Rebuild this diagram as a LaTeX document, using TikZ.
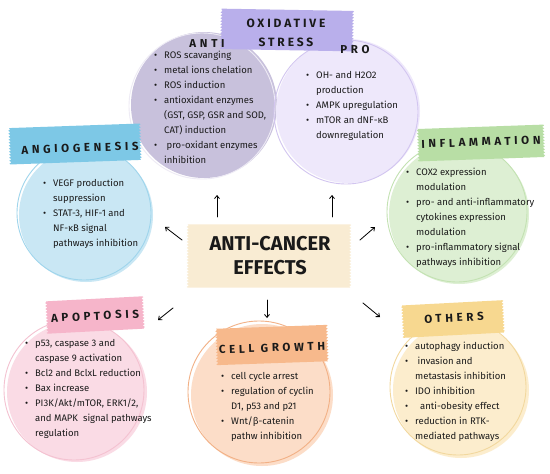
\documentclass[tikz,border=0pt]{standalone}
\usepackage{fontspec}
\setmainfont{Fira Sans}
\newfontfamily\headfont[LetterSpace=32]{Fira Sans}
\newfontfamily\oxfont[LetterSpace=24]{Fira Sans}
\usetikzlibrary{arrows.meta,decorations.pathmorphing}
\definecolor{antifill}{HTML}{C8C1DC}
\definecolor{antiring}{HTML}{EEEBF5}
\definecolor{profill}{HTML}{EEE8FB}
\definecolor{proring}{HTML}{D2C5F0}
\definecolor{oxtape}{HTML}{B9AFEB}
\definecolor{angfill}{HTML}{C9E7F4}
\definecolor{angring}{HTML}{9FD5EC}
\definecolor{angtape}{HTML}{7DC8E6}
\definecolor{inffill}{HTML}{DDEFD3}
\definecolor{infring}{HTML}{C3E2B2}
\definecolor{inftape}{HTML}{B8DEA5}
\definecolor{apofill}{HTML}{FADBE5}
\definecolor{aporing}{HTML}{F4C2D1}
\definecolor{apotape}{HTML}{F6B5CA}
\definecolor{cellfill}{HTML}{FCDDC8}
\definecolor{cellring}{HTML}{F2B085}
\definecolor{celltape}{HTML}{F7B98C}
\definecolor{othfill}{HTML}{FCEDCD}
\definecolor{othring}{HTML}{F2D89E}
\definecolor{othtape}{HTML}{F7D890}
\definecolor{midtape}{HTML}{F9ECD3}
\definecolor{ink}{HTML}{1A1A1A}
\newcommand\bul{\makebox[10pt][l]{\textbullet}}
\newcommand\ind{\hspace*{10pt}}
% name, position, width, height, angle, colour
\newcommand\tape[6]{%
  \node[inner sep=0pt,minimum width=#3,minimum height=#4,rotate=#5] (#1) at (#2) {};
  \fill[#6,decoration={zigzag,segment length=3pt,amplitude=1pt}]
    (#1.north west) -- (#1.north east) decorate{-- (#1.south east)}
    -- (#1.south west) decorate{-- (#1.north west)} -- cycle;}
\tikzset{
  blob/.style={circle,inner sep=0pt,minimum size=#1},
  ring/.style={line width=0.9pt},
  items/.style={anchor=north west,align=left,inner sep=0pt,text=ink,
    font=\fontsize{9.5}{15}\selectfont},
  head/.style={inner sep=0pt,text=ink,font=\headfont\bfseries\fontsize{11.5}{13}\selectfont},
  arr/.style={line width=0.8pt,-{Straight Barb[length=3pt,width=5pt]}},
}
\begin{document}
\begin{tikzpicture}[x=1pt,y=-1pt,line cap=round,line join=round]
  \useasboundingbox (0,0) rectangle (550,474);
  \fill[white] (0,0) rectangle (550,474);

  \node[blob=146pt,fill=antifill] (anti) at (204,105) {};
  \draw[ring,antiring] ([shift={(-2,1)}]anti.center) circle[radius=73pt];
  \node[blob=144pt,fill=profill] (pro) at (348,111) {};
  \draw[ring,proring] ([shift={(-2,1)}]pro.center) circle[radius=72pt];
  \node[blob=134pt,fill=angfill] (ang) at (86,215) {};
  \draw[ring,angring] ([shift={(-2,-2)}]ang.center) circle[radius=67pt];
  \node[blob=140pt,fill=inffill] (inf) at (459,214) {};
  \draw[ring,infring] ([shift={(-2,-2)}]inf.center) circle[radius=70pt];
  \node[blob=140pt,fill=apofill] (apo) at (77,392) {};
  \draw[ring,aporing] ([shift={(-3,-2)}]apo.center) circle[radius=70pt];
  \node[blob=142pt,fill=cellfill] (cell) at (262,395) {};
  \draw[ring,cellring] ([shift={(-3,-3)}]cell.center) circle[radius=71pt];
  \node[blob=136pt,fill=othfill] (oth) at (461,390) {};
  \draw[ring,othring] ([shift={(-3,-3)}]oth.center) circle[radius=68pt];

  \tape{oxtp}{287,30}{131pt}{40pt}{-1}{oxtape}
  \tape{angtp}{75,144}{130pt}{36pt}{2}{angtape}
  \tape{inftp}{481,143}{125pt}{32pt}{2}{inftape}
  \tape{apotp}{95,315}{96pt}{32pt}{3}{apotape}
  \tape{celltp}{272,345}{110pt}{36pt}{2}{celltape}
  \tape{othtp}{453,319}{100pt}{32pt}{3}{othtape}
  \tape{midtp}{269,256}{162pt}{63pt}{0}{midtape}

  \node[head,align=center,font=\oxfont\bfseries\fontsize{12}{19}\selectfont] (oxhead) at (286,33) {OXIDATIVE\\STRESS};
  \node[head] (antihead) at (207,44) {ANTI};
  \node[head] (prohead) at (355,50) {PRO};
  \node[head,rotate=2] (anghead) at (80,148) {ANGIOGENESIS};
  \node[head,rotate=2] (infhead) at (481,142) {INFLAMMATION};
  \node[head,rotate=3] (apohead) at (95,316) {APOPTOSIS};
  \node[head,rotate=2] (cellhead) at (272,348) {CELL GROWTH};
  \node[head,rotate=3] (othhead) at (454,318) {OTHERS};
  \node[inner sep=0pt,align=center,text=ink,font=\bfseries\fontsize{20}{24}\selectfont] (midhead) at (270,256) {ANTI-CANCER\\EFFECTS};

  \node[items] (antitxt) at (154,51) {\bul ROS scavanging\\ \bul metal ions chelation\\ \bul ROS induction\\
    \bul antioxidant enzymes\\ \ind(GST, GSP, GSR and SOD,\\ \ind CAT) induction\\ \bul\ pro-oxidant enzymes\\ \ind inhibition};
  \node[items] (protxt) at (306,71) {\bul OH- and H2O2\\ \ind production\\ \bul AMPK upregulation\\
    \bul mTOR an dNF-κB\\ \ind downregulation};
  \node[items] (angtxt) at (43,179) {\bul VEGF production\\ \ind suppression\\ \bul STAT-3, HIF-1 and\\
    \ind NF-κB signal\\ \ind pathways inhibition};
  \node[items] (inftxt) at (406,168) {\bul COX2 expression\\ \ind modulation\\ \bul pro- and anti-inflammatory\\
    \ind cytokines expression\\ \ind modulation\\ \bul pro-inflammatory signal\\ \ind pathways inhibition};
  \node[items] (apotxt) at (25,339) {\bul p53, caspase 3 and\\ \ind caspase 9 activation\\ \bul Bcl2 and BclxL reduction\\
    \bul Bax increase\\ \bul PI3K/Akt/mTOR, ERK1/2,\\ \ind and MAPK\ \ signal pathways\\ \ind regulation};
  \node[items] (celltxt) at (221,372) {\bul cell cycle arrest\\ \bul regulation of cyclin\\ \ind D1, p53 and p21\\
    \bul Wnt/β-catenin\\ \ind pathw inhibition};
  \node[items] (othtxt) at (405,342) {\bul autophagy induction\\ \bul\ invasion and\\ \ind metastasis inhibition\\
    \bul IDO inhibition\\ \bul\ \ anti-obesity effect\\ \bul reduction in RTK-\\ \ind mediated pathways};

  \coordinate (up1a) at (217,217); \coordinate (up1b) at (217,195);
  \coordinate (up2a) at (332,217); \coordinate (up2b) at (332,195);
  \coordinate (lfa) at (182,240); \coordinate (lfb) at (165,227);
  \coordinate (rta) at (360,240); \coordinate (rtb) at (375,227);
  \coordinate (apa) at (173,308); \coordinate (apb) at (158,320);
  \coordinate (cla) at (267,300); \coordinate (clb) at (267,318);
  \coordinate (ota) at (363,303); \coordinate (otb) at (380,317);
  \draw[arr] (up1a) -- (up1b);
  \draw[arr] (up2a) -- (up2b);
  \draw[arr] (lfa) -- (lfb);
  \draw[arr] (rta) -- (rtb);
  \draw[arr] (apa) -- (apb);
  \draw[arr] (cla) -- (clb);
  \draw[arr] (ota) -- (otb);
\end{tikzpicture}
\end{document}
